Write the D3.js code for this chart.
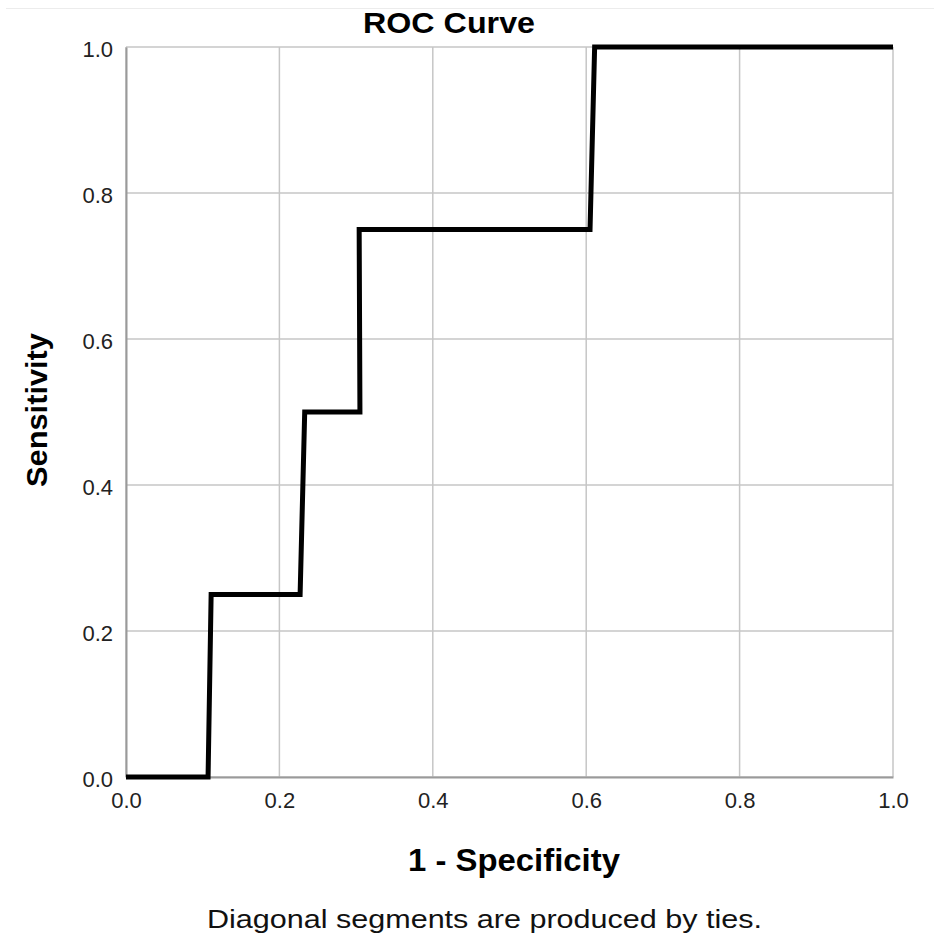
<!DOCTYPE html>
<html><head><meta charset="utf-8">
<script src="https://cdn.jsdelivr.net/npm/d3@7"></script>
<style>body{margin:0;background:#fff}svg{display:block}text{font-family:"Liberation Sans",Arial,sans-serif}</style>
</head><body><div id="c"></div>
<script>
const fpr = [0, 0.107, 0.111, 0.227, 0.233, 0.305, 0.304, 0.605, 0.611, 1];
const tpr = [0, 0, 0.25, 0.25, 0.5, 0.5, 0.75, 0.75, 1, 1];
const tickValues = [0, 0.2, 0.4, 0.6, 0.8, 1.0];
const titleText = "ROC Curve";
const xTitle = "1 - Specificity";
const yTitle = "Sensitivity";
const footnote = "Diagonal segments are produced by ties.";

const W = 934, H = 936;
const svg = d3.select("#c").append("svg").attr("width", W).attr("height", H);
const m = {l:126, r:893, t:47, b:777};
const x = d3.scaleLinear().domain([0,1]).range([m.l, m.r]);
const y = d3.scaleLinear().domain([0,1]).range([m.b, m.t]);

svg.append("line").attr("x1",6).attr("x2",W).attr("y1",8.5).attr("y2",8.5).attr("stroke","#ececec");

// grid
svg.append("g").selectAll("line").data(tickValues).join("line")
  .attr("x1", d=>x(d)).attr("x2", d=>x(d)).attr("y1", m.t).attr("y2", m.b)
  .attr("stroke","#c6c6c6").attr("stroke-width",1.5);
svg.append("g").selectAll("line").data(tickValues).join("line")
  .attr("y1", d=>y(d)).attr("y2", d=>y(d)).attr("x1", m.l).attr("x2", m.r)
  .attr("stroke","#c6c6c6").attr("stroke-width",1.5);

// axes
const xa = svg.append("g").attr("transform",`translate(0,${m.b})`)
  .call(d3.axisBottom(x).tickValues(tickValues).tickFormat(d3.format(".1f")).tickSize(0).tickPadding(15.5));
const ya = svg.append("g").attr("transform",`translate(${m.l},0)`)
  .call(d3.axisLeft(y).tickValues(tickValues).tickFormat(d3.format(".1f")).tickSize(0).tickPadding(13));
[xa, ya].forEach(a=>{
  a.select(".domain").attr("stroke","#9a9a9a").attr("stroke-width",2);
  a.selectAll("text").attr("font-size",22).attr("fill","#222").style("font-family","'Liberation Sans',Arial,sans-serif");
});
ya.selectAll("text").attr("dy","0.45em");

// curve
const pts = fpr.map((f,i)=>[f,tpr[i]]);
svg.append("path").datum(pts)
  .attr("d", d3.line().x(d=>x(d[0])).y(d=>y(d[1])))
  .attr("fill","none").attr("stroke","#000").attr("stroke-width",5).attr("stroke-linejoin","miter");

svg.append("text").attr("x",449).attr("y",33).attr("text-anchor","middle")
  .attr("font-size",30).attr("font-weight","bold")
  .attr("textLength",172).attr("lengthAdjust","spacingAndGlyphs").text(titleText);
svg.append("text").attr("x",514).attr("y",871).attr("text-anchor","middle")
  .attr("font-size",32).attr("font-weight","bold")
  .attr("textLength",212).attr("lengthAdjust","spacingAndGlyphs").text(xTitle);
svg.append("text").attr("transform","translate(47,410) rotate(-90)").attr("text-anchor","middle")
  .attr("font-size",29).attr("font-weight","bold")
  .attr("textLength",154).attr("lengthAdjust","spacingAndGlyphs").text(yTitle);
svg.append("text").attr("x",484.5).attr("y",928).attr("text-anchor","middle")
  .attr("font-size",25).attr("fill","#111")
  .attr("textLength",555).attr("lengthAdjust","spacingAndGlyphs").text(footnote);
</script></body></html>
